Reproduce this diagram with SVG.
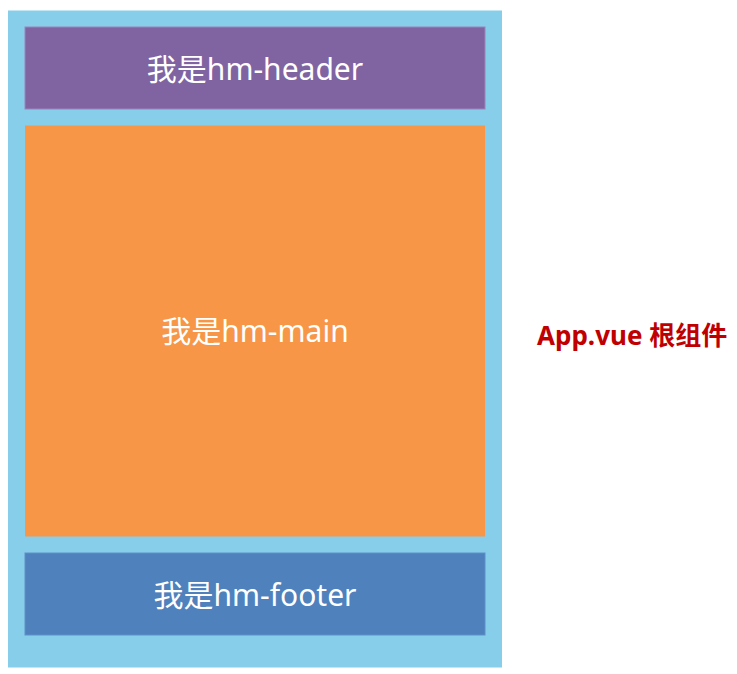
<svg xmlns="http://www.w3.org/2000/svg" width="737" height="674" viewBox="0 0 737 674">
<style>
.lbl{font-family:"Noto Sans","Noto Sans CJK SC",sans-serif;font-size:30px;fill:#ffffff;text-anchor:middle}
.side{font-family:"Noto Sans","Noto Sans CJK SC",sans-serif;font-size:26px;font-weight:bold;fill:#C00000}
</style>
<rect width="737" height="674" fill="#ffffff"/>
<g id="app">
<rect x="8" y="10.5" width="494" height="657" fill="#87CEEB"/>
</g>
<g id="header">
<rect x="25" y="27" width="460" height="82" fill="#8064A2" stroke="#9A84BC" stroke-width="1"/>
<text class="lbl" x="255" y="80">我是hm-header</text>
</g>
<g id="main">
<rect x="25" y="125.5" width="460" height="411" fill="#F79646"/>
<text class="lbl" x="255" y="342">我是hm-main</text>
</g>
<g id="footer">
<rect x="25" y="553" width="460" height="82" fill="#4F81BD" stroke="#5F8FC8" stroke-width="1"/>
<text class="lbl" x="255" y="606">我是hm-footer</text>
</g>
<g id="connectors"></g>
<text class="side" x="537" y="345">App.vue 根组件</text>
</svg>
